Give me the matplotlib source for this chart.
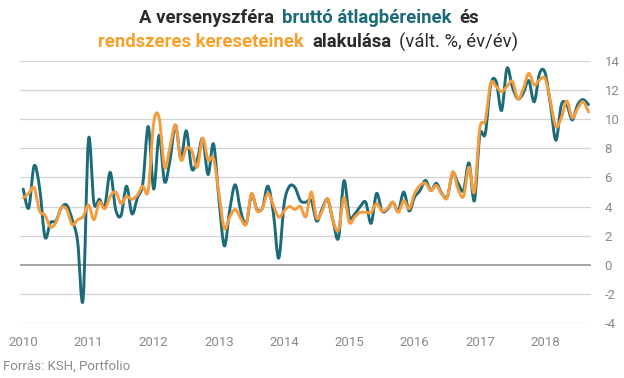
import matplotlib
matplotlib.use("Agg")
import matplotlib.pyplot as plt
from matplotlib.path import Path
from matplotlib.patches import PathPatch
import numpy as np

# ---------------- data (monthly, Jan 2010 - Sep 2018) ----------------
years = ['2010', '2011', '2012', '2013', '2014', '2015', '2016', '2017', '2018']

brutto = [5.2, 3.9, 6.8, 5.3, 1.9, 2.9, 3.0, 3.9, 4.1, 3.1, 1.6, -2.4,
          8.6, 4.25, 4.5, 4.05, 6.35, 3.8, 3.4, 5.4, 3.5, 4.6, 5.6, 9.5,
          5.2, 8.9, 5.7, 7.2, 9.6, 7.3, 9.2, 6.6, 7.2, 8.65, 6.2, 8.3,
          4.5, 1.3, 3.8, 5.5, 3.7, 2.8, 4.8, 3.8, 3.9, 5.4, 3.6, 0.45,
          4.2, 5.4, 5.3, 4.4, 4.3, 4.4, 3.0, 3.85, 4.5, 3.0, 1.85, 5.77,
          3.3, 3.5, 4.0, 4.3, 2.85, 4.9, 3.7, 3.8, 4.3, 3.7, 5.0, 3.7,
          4.65, 5.1, 5.8, 5.1, 5.6, 4.9, 4.65, 6.3, 5.6, 5.1, 7.0, 4.4,
          8.9, 9.0, 12.35, 12.6, 10.6, 13.5, 12.2, 11.4, 11.8, 12.65, 11.2, 13.15,
          13.2, 11.0, 8.55, 11.0, 11.0, 9.95, 11.0, 11.35, 11.0]

rendszeres = [4.6, 4.9, 5.3, 3.7, 3.4, 2.6, 2.9, 3.9, 3.8, 2.75, 3.1, 3.3,
              4.1, 3.1, 4.3, 3.85, 4.7, 5.0, 4.2, 4.7, 4.5, 4.8, 5.4, 5.1,
              9.75, 10.1, 6.7, 8.1, 9.6, 7.2, 8.0, 7.85, 6.7, 8.7, 7.2, 7.3,
              4.9, 2.5, 3.3, 3.8, 3.2, 2.8, 4.9, 3.7, 3.9, 4.9, 4.1, 3.27,
              3.7, 4.0, 3.8, 4.0, 3.3, 5.0, 3.2, 3.7, 4.55, 3.0, 2.4, 4.6,
              2.9, 3.3, 3.6, 3.6, 3.6, 4.2, 3.7, 3.85, 4.3, 3.6, 4.4, 3.85,
              4.9, 5.45, 5.6, 5.1, 5.45, 4.85, 4.6, 6.4, 5.2, 4.7, 6.7, 5.0,
              9.4, 9.9, 12.45, 12.25, 11.9, 12.25, 12.6, 11.4, 12.1, 13.15, 12.35, 12.7,
              12.8, 11.2, 9.5, 10.1, 11.25, 10.1, 10.75, 11.2, 10.5]

yticks = [-4, -2, 0, 2, 4, 6, 8, 10, 12, 14]

TEAL = '#1b6b78'
ORANGE = '#f59c3f'
DARK = '#2b2b2b'
GREY = '#8a8a8a'

plt.rcParams['font.family'] = ['Roboto', 'DejaVu Sans']

fig = plt.figure(figsize=(6.24, 3.78), dpi=100)
W, H = 624, 378
ax = fig.add_axes([20 / W, 1 - 323 / H, (590.7 - 20) / W, (323 - 61) / H])


def spline_path(xs, ys):
    xs = np.asarray(xs, float)
    ys = np.asarray(ys, float)
    P = np.column_stack([xs, ys])
    n = len(P)
    verts = [tuple(P[0])]
    codes = [Path.MOVETO]
    for i in range(n - 1):
        pm = P[i - 1] if i > 0 else P[i]
        p2 = P[i + 2] if i + 2 < n else P[i + 1]
        c1 = P[i] + (P[i + 1] - pm) / 6.0
        c2 = P[i + 1] - (p2 - P[i]) / 6.0
        verts += [tuple(c1), tuple(c2), tuple(P[i + 1])]
        codes += [Path.CURVE4] * 3
    return Path(verts, codes)


x = np.arange(len(brutto))
for series, col in ((brutto, TEAL), (rendszeres, ORANGE)):
    patch = PathPatch(spline_path(x, series), facecolor='none', edgecolor=col,
                      lw=2.1, capstyle='round', joinstyle='round', zorder=3)
    ax.add_patch(patch)

ax.set_xlim(-0.6, 104.4)
ax.set_ylim(-4, 14)

for v in yticks:
    if v == 0:
        ax.axhline(v, color='#8c8c8c', lw=1.1, zorder=1)
    else:
        ax.axhline(v, color='#d4d4d4', lw=0.9, zorder=1)

for s in ax.spines.values():
    s.set_visible(False)

ax.yaxis.tick_right()
ax.set_yticks(yticks)
ax.set_yticklabels([str(v) for v in yticks])
ax.set_xticks([12 * i for i in range(len(years))])
ax.set_xticklabels(years)
ax.tick_params(axis='both', length=0, colors=GREY, labelsize=9.5)
ax.tick_params(axis='y', pad=10)
ax.tick_params(axis='x', pad=9)

fig.text(3 / W, 1 - 366 / H, 'Forrás: KSH, Portfolio', color=GREY, fontsize=9.5,
         ha='left', va='center')

# ---------------- multi-coloured title ----------------
renderer = fig.canvas.get_renderer()


def title_line(pieces, cx, cy, gap=8):
    texts = []
    for s, col, wt in pieces:
        t = fig.text(0, 1 - cy / H, s, color=col, fontsize=13.3, fontweight=wt,
                     ha='left', va='center')
        texts.append(t)
    widths = [t.get_window_extent(renderer).width for t in texts]
    total = sum(widths) + gap * (len(texts) - 1)
    xpos = cx - total / 2
    for t, w in zip(texts, widths):
        t.set_x(xpos / W)
        xpos += w + gap


title_line([('A versenyszféra', DARK, 'bold'),
            ('bruttó átlagbéreinek', TEAL, 'bold'),
            ('és', DARK, 'bold')], 309, 18)
title_line([('rendszeres kereseteinek', '#f7a12a', 'bold'),
            ('alakulása', DARK, 'bold'),
            ('(vált. %, év/év)', DARK, 'normal')], 308.5, 42)

fig.savefig('out.png', dpi=100)
